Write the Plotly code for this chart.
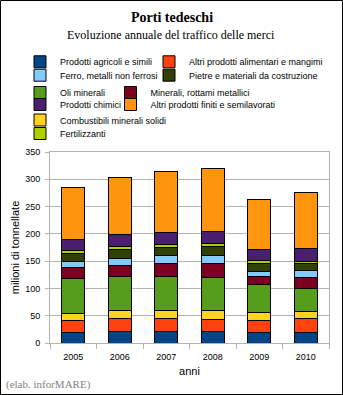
import plotly.graph_objects as go

# Annual cargo traffic through German ports, million tonnes per commodity group
anni = ["2005", "2006", "2007", "2008", "2009", "2010"]

prodotti_agricoli = [19.5, 20.7, 20.7, 20.7, 20.1, 20.1]
altri_alimentari = [22.0, 23.8, 23.8, 23.2, 22.0, 24.4]
combustibili_solidi = [12.8, 14.7, 14.7, 15.3, 14.6, 12.8]
oli_minerali = [64.0, 62.2, 62.2, 61.5, 51.2, 43.3]
minerali_rottami = [20.1, 20.1, 23.7, 24.4, 14.7, 20.1]
ferro_metalli = [11.0, 12.8, 14.7, 14.7, 9.1, 11.7]
pietre_materiali = [14.6, 17.1, 14.6, 16.4, 14.7, 14.1]
fertilizzanti = [4.9, 4.8, 5.5, 5.5, 5.4, 3.6]
prodotti_chimici = [20.7, 22.0, 21.9, 23.2, 19.6, 23.8]
altri_finiti = [95.2, 104.3, 112.0, 115.6, 92.0, 101.2]

y_ticks = [0, 50, 100, 150, 200, 250, 300, 350]

# Figure geometry (pixels)
W, H = 343, 395
ML, MR, MT, MB = 50, 14, 152, 52
PW, PH = W - ML - MR, H - MT - MB


def px_x(x):
    return (x - ML) / PW


def px_y(y):
    return (H - MB - y) / PH


# Legend swatch centre sits 20 px right of each legend's left edge
LEG_SWATCH_OFFSET = 20

# (name, values, colour, legend id, swatch centre x, legend row centre y)
series = [
    ("Prodotti agricoli e simili", prodotti_agricoli, "#004586", "legend", 40, 61.8),
    ("Altri prodotti alimentari e mangimi", altri_alimentari, "#ff420e", "legend2", 169, 61.8),
    ("Combustibili minerali solidi", combustibili_solidi, "#ffd320", "legend3", 40, 120.0),
    ("Oli minerali", oli_minerali, "#579d1c", "legend4", 40, 92.5),
    ("Minerali, rottami metallici", minerali_rottami, "#7e0021", "legend5", 130.5, 92.5),
    ("Ferro, metalli non ferrosi", ferro_metalli, "#83caff", "legend6", 40, 75.2),
    ("Pietre e materiali da costruzione", pietre_materiali, "#314004", "legend7", 169, 75.2),
    ("Fertilizzanti", fertilizzanti, "#aecf00", "legend8", 40, 133.5),
    ("Prodotti chimici", prodotti_chimici, "#4b1f6f", "legend9", 40, 104.5),
    ("Altri prodotti finiti e semilavorati", altri_finiti, "#ff950e", "legend10", 130.5, 104.5),
]

SANS = "Liberation Sans, Arial, sans-serif"
SERIF = "Liberation Serif, Times New Roman, serif"

fig = go.Figure()
legend_layouts = {}
for name, vals, col, leg, cx, cy in series:
    fig.add_trace(go.Bar(
        x=anni, y=vals, name=name, legend=leg,
        marker=dict(color=col, line=dict(color="black", width=1)),
        width=0.5,
    ))
    legend_layouts[leg] = dict(
        x=px_x(cx - LEG_SWATCH_OFFSET), y=px_y(cy), xanchor="left", yanchor="middle",
        bgcolor="rgba(0,0,0,0)", borderwidth=0,
        font=dict(family=SANS, size=9, color="black"),
        itemclick=False, itemdoubleclick=False,
    )

fig.update_layout(
    width=W, height=H, autosize=False,
    margin=dict(l=ML, r=MR, t=MT, b=MB, pad=0),
    paper_bgcolor="white", plot_bgcolor="white",
    barmode="stack", bargap=0.5,
    showlegend=True,
    font=dict(family=SANS, size=9, color="black"),
    xaxis=dict(
        type="category", tickson="boundaries", ticks="outside", ticklen=5,
        tickcolor="#b3b3b3", showline=True, linecolor="#b3b3b3", linewidth=1,
        mirror=True, showgrid=False, tickfont=dict(family=SANS, size=9),
        ticklabelstandoff=5,
        title=dict(text="anni", font=dict(family=SANS, size=11), standoff=6),
    ),
    yaxis=dict(
        range=[0, 350], tickvals=y_ticks, ticks="outside", ticklen=4,
        tickcolor="#b3b3b3", showline=True, linecolor="#b3b3b3", linewidth=1,
        mirror=True, showgrid=True, gridcolor="#b3b3b3", gridwidth=1,
        zeroline=False, tickfont=dict(family=SANS, size=9),
        ticklabelstandoff=3,
        title=dict(text="milioni di tonnellate", font=dict(family=SANS, size=11), standoff=3),
    ),
    annotations=[
        dict(text="<b>Porti tedeschi</b>", x=px_x(171.5), y=px_y(17), xref="paper", yref="paper",
             xanchor="center", yanchor="middle", showarrow=False,
             font=dict(family=SERIF, size=14, color="black")),
        dict(text="Evoluzione annuale del traffico delle merci", x=px_x(171), y=px_y(35),
             xref="paper", yref="paper", xanchor="center", yanchor="middle", showarrow=False,
             font=dict(family=SERIF, size=12, color="black")),
        dict(text="(elab. inforMARE)", x=px_x(4), y=px_y(384), xref="paper", yref="paper",
             xanchor="left", yanchor="middle", showarrow=False,
             font=dict(family=SERIF, size=11, color="#808080")),
    ],
    shapes=[
        dict(type="rect", xref="paper", yref="paper",
             x0=px_x(0.5), x1=px_x(W - 0.5), y0=px_y(H - 0.5), y1=px_y(0.5),
             line=dict(color="black", width=1), fillcolor="rgba(0,0,0,0)", layer="above"),
    ],
    **legend_layouts,
)

fig.write_html("out.html", config={"displayModeBar": False})
